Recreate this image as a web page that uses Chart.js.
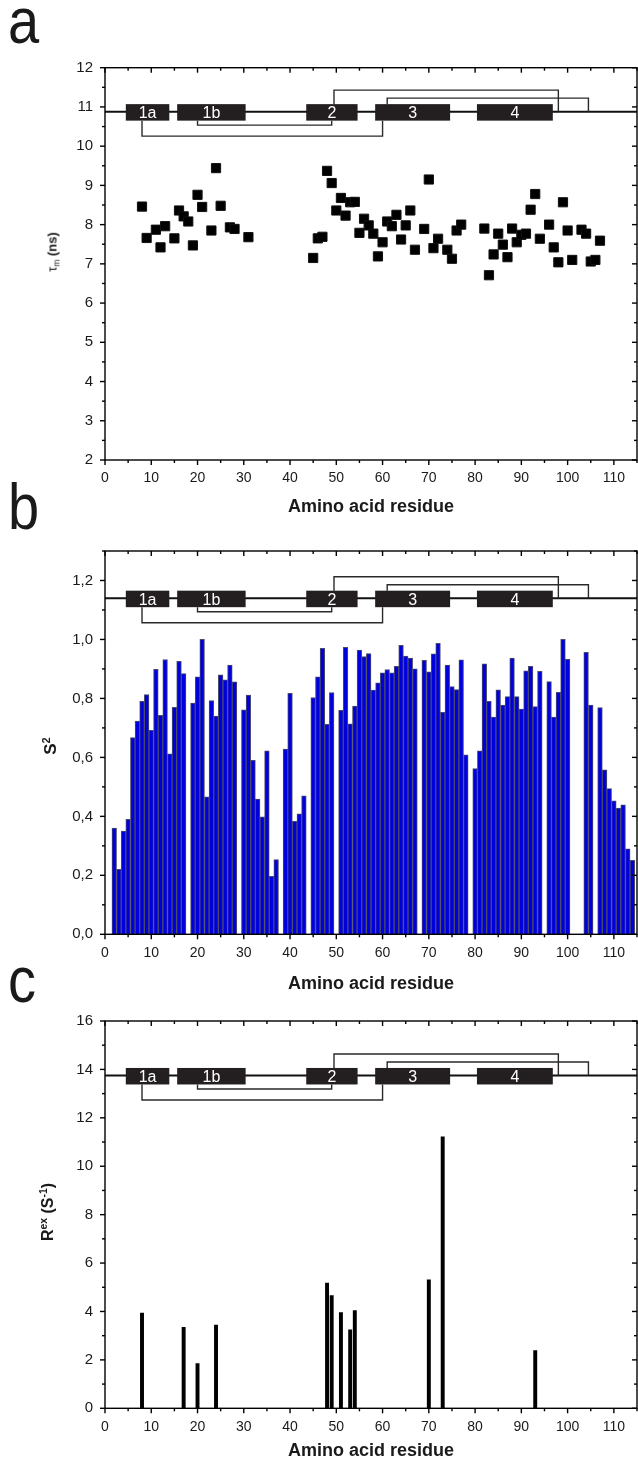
<!DOCTYPE html>
<html>
<head>
<meta charset="utf-8">
<script src="https://cdn.jsdelivr.net/npm/chart.js@4.4.1/dist/chart.umd.min.js"></script>
<style>
  html, body { margin: 0; padding: 0; background: #fff; }
  body { width: 638px; height: 1469px; position: relative; overflow: hidden;
         font-family: "Liberation Sans", Arial, sans-serif; color: #1a1a1a; }
  canvas { position: absolute; left: 0; }
  .letter { position: absolute; left: 8px; font-size: 56px; line-height: 1;
            transform: scaleY(1.15); transform-origin: 0 0; }
  .ytitle { position: absolute; white-space: nowrap; font-weight: bold; line-height: 1;
            transform: translate(-50%, -50%) rotate(-90deg); }
  .ytitle .sup { font-size: 0.65em; position: relative; top: -0.55em; }
  .ytitle .sub { font-size: 0.65em; position: relative; top: 0.3em; }
</style>
</head>
<body>
<canvas id="chartA" width="638" height="530" style="top:0"></canvas>
<canvas id="chartB" width="638" height="470" style="top:530px"></canvas>
<canvas id="chartC" width="638" height="469" style="top:1000px"></canvas>

<div class="letter" style="top:-11px">a</div>
<div class="letter" style="top:475px">b</div>
<div class="letter" style="top:948px">c</div>

<div class="ytitle" style="left:52px; top:252px; font-size:13px"><span style="font-weight:normal">τ<span class="sub">m</span></span> (ns)</div>
<div class="ytitle" style="left:50px; top:746px; font-size:17px">S<span class="sup">2</span></div>
<div class="ytitle" style="left:48px; top:1212px; font-size:16px">R<span class="sup">ex</span> (S<span class="sup">-1</span>)</div>

<script>
// panel a: correlation time per residue
const tauResidues = [8, 9, 11, 12, 13, 15, 16, 17, 18, 19, 20, 21, 23, 24, 25, 27, 28, 31,
  45, 46, 47, 48, 49, 50, 51, 52, 53, 54, 55, 56, 57, 58, 59, 60, 61, 62, 63, 64, 65, 66, 67,
  69, 70, 71, 72, 74, 75, 76, 77,
  82, 83, 84, 85, 86, 87, 88, 89, 90, 91, 92, 93, 94, 96, 97, 98, 99, 100, 101, 103, 104, 105, 106, 107];
const tauValues = [8.46, 7.66, 7.87, 7.42, 7.96, 7.65, 8.36, 8.21, 8.08, 7.47, 8.76, 8.45, 7.85, 9.44, 8.48, 7.93, 7.89, 7.68,
  7.15, 7.65, 7.69, 9.37, 9.06, 8.36, 8.68, 8.23, 8.57, 8.58, 7.79, 8.15, 7.98, 7.77, 7.19, 7.55, 8.08, 7.96, 8.25, 7.62, 7.98, 8.36, 7.36,
  7.89, 9.15, 7.40, 7.64, 7.36, 7.13, 7.85, 8.00,
  7.90, 6.71, 7.24, 7.77, 7.49, 7.17, 7.90, 7.55, 7.74, 7.77, 8.38, 8.78, 7.64, 8.00, 7.42, 7.04, 8.57, 7.85, 7.10, 7.87, 7.77, 7.06, 7.10, 7.59];

// panel b: order parameter S2
const s2Residues = [2, 3, 4, 5, 6, 7, 8, 9, 10, 11, 12, 13, 14, 15, 16, 17, 19, 20, 21, 22, 23, 24, 25, 26, 27, 28,
  30, 31, 32, 33, 34, 35, 36, 37, 39, 40, 41, 42, 43, 45, 46, 47, 48, 49,
  51, 52, 53, 54, 55, 56, 57, 58, 59, 60, 61, 62, 63, 64, 65, 66, 67,
  69, 70, 71, 72, 73, 74, 75, 76, 77, 78, 80, 81, 82, 83, 84, 85, 86, 87, 88, 89, 90, 91, 92, 93, 94,
  96, 97, 98, 99, 100, 104, 105, 107, 108, 109, 110, 111, 112, 113, 114];
const s2Values = [0.36, 0.22, 0.35, 0.39, 0.667, 0.723, 0.79, 0.813, 0.692, 0.899, 0.743, 0.932, 0.612, 0.77, 0.926, 0.884,
  0.784, 0.873, 1.0, 0.466, 0.793, 0.74, 0.88, 0.863, 0.913, 0.856,
  0.761, 0.811, 0.59, 0.459, 0.398, 0.622, 0.197, 0.253, 0.628, 0.817, 0.383, 0.409, 0.47, 0.803, 0.873, 0.97, 0.712, 0.82,
  0.76, 0.973, 0.714, 0.774, 0.964, 0.942, 0.952, 0.828, 0.853, 0.887, 0.898, 0.887, 0.909, 0.98, 0.944, 0.937, 0.9,
  0.929, 0.89, 0.951, 0.987, 0.753, 0.913, 0.84, 0.83, 0.931, 0.609, 0.562, 0.622, 0.917, 0.79, 0.737, 0.829, 0.777, 0.806,
  0.937, 0.806, 0.764, 0.894, 0.909, 0.772, 0.892,
  0.857, 0.737, 0.821, 1.0, 0.933, 0.956, 0.777, 0.769, 0.558, 0.494, 0.453, 0.428, 0.439, 0.29, 0.251];

// panel c: exchange contribution
const rexResidues = [8, 17, 20, 24, 48, 49, 51, 53, 54, 70, 73, 93];
const rexValues = [3.95, 3.36, 1.86, 3.45, 5.19, 4.67, 3.97, 3.26, 4.05, 5.32, 11.23, 2.40];

// secondary structure / disulfide topology
const segLabels = ['1a', '1b', '2', '3', '4'];
const segStart = [4.5, 15.6, 43.5, 58.4, 80.4];
const segEnd = [13.9, 30.4, 54.6, 74.6, 96.8];
const bondFrom = [49.5, 61, 20, 8];
const bondTo = [98, 104.5, 49, 60];
const bondSide = ['up', 'up', 'down', 'down'];

const FONT = '"Liberation Sans", Arial, sans-serif';
const INK = '#1a1a1a';

function inSegment(v) {
  return segStart.some((s, i) => v >= s && v <= segEnd[i]);
}

const topology = {
  id: 'topology',
  afterDatasetsDraw(chart, args, opts) {
    const { ctx, chartArea: a, scales: { x, y } } = chart;
    const yl = y.getPixelForValue(opts.y);
    const boxTop = yl - 7.5, boxBot = yl + 9;
    ctx.save();

    ctx.strokeStyle = '#111';
    ctx.lineWidth = 2;
    ctx.beginPath();
    ctx.moveTo(a.left, yl);
    ctx.lineTo(a.right, yl);
    ctx.stroke();

    // bonds: longer span sits further from the line
    ctx.strokeStyle = '#2a2a2a';
    ctx.lineWidth = 1.4;
    ['up', 'down'].forEach(side => {
      const idx = bondSide.map((s, i) => i).filter(i => bondSide[i] === side)
        .sort((i, j) => (bondTo[i] - bondFrom[i]) - (bondTo[j] - bondFrom[j]));
      const levels = side === 'up' ? [13.5, 21.5] : [13.5, 24.5];
      idx.forEach((i, k) => {
        const dir = side === 'up' ? -1 : 1;
        const yb = yl + dir * levels[k];
        const x1 = x.getPixelForValue(bondFrom[i]);
        const x2 = x.getPixelForValue(bondTo[i]);
        const end = v => inSegment(v) ? (dir < 0 ? boxTop : boxBot) : yl;
        ctx.beginPath();
        ctx.moveTo(x1, end(bondFrom[i]));
        ctx.lineTo(x1, yb);
        ctx.lineTo(x2, yb);
        ctx.lineTo(x2, end(bondTo[i]));
        ctx.stroke();
      });
    });

    segLabels.forEach((lab, i) => {
      const x1 = x.getPixelForValue(segStart[i]);
      const x2 = x.getPixelForValue(segEnd[i]);
      ctx.fillStyle = '#231f20';
      ctx.fillRect(x1, boxTop, x2 - x1, boxBot - boxTop);
      ctx.fillStyle = '#fff';
      ctx.font = '16px ' + FONT;
      ctx.textAlign = 'center';
      ctx.textBaseline = 'middle';
      ctx.fillText(lab, (x1 + x2) / 2, yl + 2);
    });
    ctx.restore();
  }
};

const frameTicks = {
  id: 'frameTicks',
  afterDraw(chart, args, opts) {
    const { ctx, chartArea: a, scales: { x, y } } = chart;
    ctx.save();
    ctx.strokeStyle = '#000';
    ctx.lineWidth = 1.4;
    const seg = (x1, y1, x2, y2) => { ctx.beginPath(); ctx.moveTo(x1, y1); ctx.lineTo(x2, y2); ctx.stroke(); };
    const isMajor = (v, step) => Math.abs(v / step - Math.round(v / step)) < 1e-6;

    const nx = Math.round((x.max - x.min) / opts.xMinor);
    for (let i = 0; i <= nx; i++) {
      const v = x.min + i * opts.xMinor;
      const px = x.getPixelForValue(v);
      const len = isMajor(v, opts.xMajor) ? 5 : 3;
      seg(px, a.bottom, px, a.bottom + len);
      seg(px, a.top, px, a.top + len);
    }
    const ny = Math.round((y.max - y.min) / opts.yMinor);
    for (let i = 0; i <= ny; i++) {
      const v = y.min + i * opts.yMinor;
      const py = y.getPixelForValue(v);
      const len = isMajor(v, opts.yMajor) ? 5 : 3;
      seg(a.left - len, py, a.left, py);
      seg(a.right - len, py, a.right, py);
    }
    ctx.strokeRect(a.left, a.top, a.right - a.left, a.bottom - a.top);
    ctx.restore();
  }
};

function makeOptions(cfg) {
  return {
    responsive: false,
    animation: false,
    layout: { autoPadding: false, padding: { top: cfg.top, right: 1, left: 0, bottom: 0 } },
    plugins: {
      legend: { display: false },
      tooltip: { enabled: false },
      topology: { y: cfg.topoY },
      frameTicks: { xMajor: 10, xMinor: 5, yMajor: cfg.yMajor, yMinor: cfg.yMinor }
    },
    scales: {
      x: {
        type: 'linear', min: 0, max: 115, offset: false,
        grid: { display: false, drawTicks: false },
        border: { display: false },
        ticks: { stepSize: 10, includeBounds: false, padding: 10, maxRotation: 0, autoSkip: false,
                 color: INK, font: { family: FONT, size: 14 } },
        title: { display: true, text: 'Amino acid residue', color: INK,
                 font: { family: FONT, size: 18, weight: 'bold' },
                 padding: { top: 0, bottom: cfg.titlePad } },
        afterFit(s) { s.height = cfg.xh; }
      },
      y: {
        min: cfg.yMin, max: cfg.yMax,
        grid: { display: false, drawTicks: false },
        border: { display: false },
        ticks: { stepSize: cfg.yMajor, includeBounds: false, padding: 12, color: INK,
                 font: { family: FONT, size: 15 }, callback: cfg.fmt },
        afterFit(s) { s.width = 105; }
      }
    }
  };
}

new Chart(document.getElementById('chartA'), {
  type: 'scatter',
  data: {
    datasets: [{
      data: tauResidues.map((r, i) => ({ x: r, y: tauValues[i] })),
      pointStyle: 'rect', pointRadius: 6.5, backgroundColor: '#000', borderColor: '#111', borderWidth: 1
    }]
  },
  options: makeOptions({ top: 67.7, xh: 70, titlePad: 12, topoY: 10.88, yMin: 2, yMax: 12,
                         yMajor: 1, yMinor: 0.5, fmt: v => String(v) }),
  plugins: [topology, frameTicks]
});

new Chart(document.getElementById('chartB'), {
  type: 'bar',
  data: {
    datasets: [{
      data: s2Residues.map((r, i) => ({ x: r, y: s2Values[i] })),
      backgroundColor: '#0000dc', borderColor: '#4a4a6a', borderWidth: 1,
      barPercentage: 1, categoryPercentage: 1
    }]
  },
  options: makeOptions({ top: 14.3, xh: 65.7, titlePad: 5, topoY: 1.14, yMin: 0, yMax: 1.3,
                         yMajor: 0.2, yMinor: 0.1, fmt: v => v.toFixed(1).replace('.', ',') }),
  plugins: [topology, frameTicks]
});

new Chart(document.getElementById('chartC'), {
  type: 'bar',
  data: {
    datasets: [{
      data: rexResidues.map((r, i) => ({ x: r, y: rexValues[i] })),
      backgroundColor: '#000', borderWidth: 0,
      barPercentage: 0.85, categoryPercentage: 1
    }]
  },
  options: makeOptions({ top: 17.9, xh: 60.7, titlePad: 7, topoY: 13.75, yMin: 0, yMax: 16,
                         yMajor: 2, yMinor: 1, fmt: v => String(v) }),
  plugins: [topology, frameTicks]
});
</script>
</body>
</html>
